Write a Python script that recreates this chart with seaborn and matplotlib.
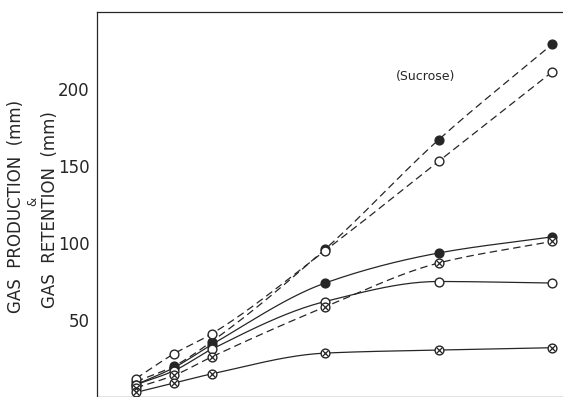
import numpy as np
import pandas as pd
import matplotlib
matplotlib.use("Agg")
import matplotlib.pyplot as plt
import seaborn as sns

# Sampling times (positions along the time axis) and gas readings in mm
times = [0, 1, 2, 5, 8, 11]
tick_times = [1, 2, 5, 8, 11]
y_ticks = [50, 100, 150, 200]

sucrose_filled = [10, 20, 36, 96, 167, 229]
sucrose_open = [12, 28, 41, 95, 153, 211]
solid_filled = [8, 19, 34, 74, 93.5, 104]
solid_open = [8, 17, 31, 62, 75, 74]
dashed_crossed = [6, 14, 26, 58.5, 87, 101]
solid_crossed = [3, 9, 15, 28.5, 30.5, 32]

INK = "#262626"

series = [
    # values, line style, marker kind
    (sucrose_filled, "dashed", "filled"),
    (sucrose_open, "dashed", "open"),
    (solid_filled, "solid", "filled"),
    (solid_open, "solid", "open"),
    (dashed_crossed, "dashed", "crossed"),
    (solid_crossed, "solid", "crossed"),
]


def smooth_path(x, y, n=200):
    """Monotone cubic (Fritsch-Carlson) curve through the given points."""
    x = np.asarray(x, float)
    y = np.asarray(y, float)
    h = np.diff(x)
    d = np.diff(y) / h
    m = np.zeros_like(y)
    m[0], m[-1] = d[0], d[-1]
    for i in range(1, len(x) - 1):
        if d[i - 1] * d[i] <= 0:
            m[i] = 0.0
        else:
            w1 = 2 * h[i] + h[i - 1]
            w2 = h[i] + 2 * h[i - 1]
            m[i] = (w1 + w2) / (w1 / d[i - 1] + w2 / d[i])
    xs = np.linspace(x[0], x[-1], n)
    idx = np.clip(np.searchsorted(x, xs) - 1, 0, len(h) - 1)
    t = (xs - x[idx]) / h[idx]
    h00 = 2 * t**3 - 3 * t**2 + 1
    h10 = t**3 - 2 * t**2 + t
    h01 = -2 * t**3 + 3 * t**2
    h11 = t**3 - t**2
    ys = (h00 * y[idx] + h10 * h[idx] * m[idx]
          + h01 * y[idx + 1] + h11 * h[idx] * m[idx + 1])
    return xs, ys


sns.set_style("white")
plt.rcParams["font.family"] = ["DejaVu Sans"]

fig = plt.figure(figsize=(5.63, 3.97), dpi=100)
ax = fig.add_axes([97 / 563, 0.0, 1 - 97 / 563, 1 - 12 / 397])

for values, style, kind in series:
    xs, ys = smooth_path(times, values)
    ax.plot(xs, ys, color=INK, lw=0.9,
            linestyle=(0, (6, 3.5)) if style == "dashed" else "-",
            zorder=2)
    df = pd.DataFrame({"t": times, "v": values})
    face = INK if kind == "filled" else "white"
    sns.scatterplot(data=df, x="t", y="v", ax=ax, marker="o", s=40,
                    facecolor=face, edgecolor=INK, linewidth=1.0, zorder=3)
    if kind == "crossed":
        sns.scatterplot(data=df, x="t", y="v", ax=ax, marker="x", s=14,
                        color=INK, linewidth=0.9, zorder=4)

ax.text(8 - 0.35, 208, "(Sucrose)", fontsize=9, color=INK,
        ha="center", va="center")

ax.set_xlim(-1.03, 11.29)
ax.set_ylim(0, 250)
ax.set_xticks(tick_times)
ax.set_yticks(y_ticks)
ax.set_yticklabels([str(v) for v in y_ticks])
ax.set_xlabel("")
ax.set_ylabel("")
ax.tick_params(axis="x", direction="in", length=6.5, width=0.9,
               color=INK, labelbottom=False)
ax.tick_params(axis="y", direction="inout", length=9, width=0.9,
               color=INK, labelsize=12, labelcolor=INK, pad=1)

for side in ["left", "top", "bottom"]:
    ax.spines[side].set_visible(True)
    ax.spines[side].set_color(INK)
    ax.spines[side].set_linewidth(0.9)
ax.spines["right"].set_visible(False)

fig.text(16 / 563, 1 - 206 / 397, "GAS  PRODUCTION  (mm)", rotation=90,
         ha="center", va="center", fontsize=12, color=INK)
fig.text(32.5 / 563, 1 - 201 / 397, "&", rotation=90,
         ha="center", va="center", fontsize=8.5, color=INK)
fig.text(50 / 563, 1 - 210 / 397, "GAS  RETENTION  (mm)", rotation=90,
         ha="center", va="center", fontsize=12, color=INK)

fig.savefig("out.png", dpi=100, facecolor="white")
